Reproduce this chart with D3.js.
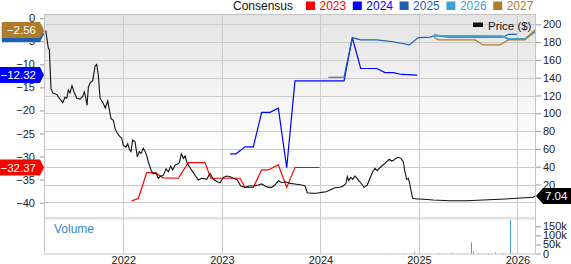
<!DOCTYPE html>
<html>
<head>
<meta charset="utf-8">
<script src="https://cdn.jsdelivr.net/npm/d3@7"></script>
<style>
  body { margin: 0; background: #fff; }
  svg { display: block; font-family: "Liberation Sans", Arial, sans-serif; }
</style>
</head>
<body>
<script>
const width = 571;
const height = 264;

// data (time as decimal years)
const years = [2022, 2023, 2024, 2025, 2026];
const priceTicks = [20, 40, 60, 80, 100, 120, 140, 160, 180, 200];
const epsTicks = [0, -5, -10, -15, -20, -25, -30, -35, -40];
const volTicks = [0, 50000, 100000, 150000];
const volTickLabels = ['0', '50k', '100k', '150k'];

const price = [
  [2021.213,193],[2021.239,173],[2021.249,172],[2021.266,128],[2021.284,123],[2021.324,121],
  [2021.385,112],[2021.408,118],[2021.426,117],[2021.442,126],[2021.459,123],[2021.479,131],
  [2021.500,124],[2021.527,117],[2021.561,116],[2021.588,119],[2021.604,124],[2021.618,118],
  [2021.632,109],[2021.645,129],[2021.662,134],[2021.690,137],[2021.713,153],[2021.730,155],
  [2021.746,143],[2021.764,117],[2021.797,111],[2021.817,106],[2021.842,114],[2021.858,104],
  [2021.875,94],[2021.899,92],[2021.916,83],[2021.933,79],[2021.959,74.5],[2021.984,72],
  [2022.000,64],[2022.027,62],[2022.045,66],[2022.061,59.6],[2022.078,57],[2022.095,70],
  [2022.119,68],[2022.142,51],[2022.162,57],[2022.180,55],[2022.203,60.7],[2022.230,55],
  [2022.254,45.6],[2022.281,36.3],[2022.304,31.8],[2022.329,33.3],[2022.355,27],[2022.380,29.5],
  [2022.406,30],[2022.433,37.6],[2022.457,34.4],[2022.481,40.8],[2022.501,36.3],[2022.525,42],
  [2022.548,42.7],[2022.568,44.5],[2022.589,54.3],[2022.609,49.4],[2022.626,52],[2022.643,45.6],
  [2022.670,40],[2022.710,33.3],[2022.761,25],[2022.796,27],[2022.846,25.8],[2022.880,32.6],
  [2022.913,25.8],[2022.954,23],[2022.981,22],[2023.015,28],[2023.049,29.6],[2023.083,28.8],
  [2023.116,27],[2023.157,25],[2023.191,18.3],[2023.235,16.8],[2023.279,18.3],[2023.319,18.3],
  [2023.370,19.4],[2023.404,20.6],[2023.438,18.3],[2023.471,16.8],[2023.506,16.8],[2023.539,19.4],
  [2023.573,24.3],[2023.607,22],[2023.641,23],[2023.674,22],[2023.692,21.3],[2023.742,20.6],
  [2023.810,19.4],[2023.844,18.3],[2023.867,10.8],[2023.912,10.1],[2023.962,10.1],[2024.013,11.2],
  [2024.057,11.9],[2024.097,13.8],[2024.148,16.4],[2024.199,16.9],[2024.232,18.3],[2024.260,21.3],
  [2024.273,28.8],[2024.287,24.3],[2024.307,28],[2024.328,25.8],[2024.351,29.6],[2024.385,25],
  [2024.419,20.6],[2024.442,16.8],[2024.476,19.4],[2024.503,27],[2024.531,34.4],[2024.554,38.2],
  [2024.576,35.5],[2024.598,38.2],[2024.622,40.8],[2024.648,43],[2024.673,45.6],[2024.699,48.3],
  [2024.723,46.4],[2024.747,47.5],[2024.767,49.4],[2024.790,50.6],[2024.818,49.4],[2024.841,45.6],
  [2024.858,34.4],[2024.876,25.8],[2024.892,27],[2024.902,23],[2024.919,13.8],[2024.937,4.5],
  [2024.977,3.7],[2025.011,3.7],[2025.146,2.6],[2025.315,1.8],[2025.485,1.8],[2025.653,2.6],
  [2025.822,3.4],[2025.992,4.5],[2026.160,5.6],[2026.177,7.04]
];

const eps2023 = [
  [2022.085,-39.6],[2022.152,-39.1],[2022.237,-33.5],[2022.322,-33.5],[2022.406,-34.6],[2022.558,-34.7],
  [2022.660,-31.3],[2022.829,-31.3],[2022.887,-34.7],[2023.184,-34.7],[2023.235,-36.7],[2023.319,-36.7],
  [2023.404,-32.9],[2023.471,-32.9],[2023.573,-31.8],[2023.658,-36.7],[2023.742,-32.37],[2023.989,-32.37]
];
const eps2024 = [
  [2023.083,-29.4],[2023.144,-29.4],[2023.235,-27.9],[2023.319,-27.9],[2023.404,-20.4],[2023.489,-20.4],
  [2023.573,-19.5],[2023.658,-32.4],[2023.742,-13.6],[2024.240,-13.6],[2024.324,-4.2],[2024.409,-10.9],
  [2024.571,-10.9],[2024.656,-11.8],[2024.740,-11.8],[2024.825,-12.2],[2024.983,-12.32]
];
const eps2025 = [
  [2024.080,-12.8],[2024.240,-12.8],[2024.324,-4.2],[2024.409,-4.7],[2024.571,-4.7],[2024.740,-5.1],
  [2024.902,-5.8],[2024.993,-4.2],[2025.112,-4.1],[2025.163,-3.8],[2025.300,-4.1],[2025.856,-4.1],
  [2025.907,-3.5],[2025.992,-3.5]
];
const eps2026 = [
  [2025.153,-3.6],[2025.200,-3.8],[2025.850,-3.9],[2025.907,-4.5],[2026.076,-4.5],[2026.177,-2.9]
];
const eps2027 = [
  [2025.153,-4.2],[2025.200,-4.7],[2025.569,-4.7],[2025.653,-5.8],[2025.822,-5.8],[2025.907,-4.7],
  [2026.076,-4.7],[2026.177,-2.56]
];

const volume = [
  [2024.55,1500],[2024.70,2000],[2024.85,2500],[2024.946,7000],[2025.00,3000],[2025.10,2000],
  [2025.20,2500],[2025.322,5000],[2025.40,2000],[2025.528,62000],[2025.545,10000],[2025.60,3000],
  [2025.70,2500],[2025.769,7000],[2025.85,3000],[2025.924,185000],[2025.95,4000],[2026.05,2500],
  [2026.15,3000]
];

const consensus = [
  {name: '2023', color: '#ff0000', values: eps2023},
  {name: '2024', color: '#0000ff', values: eps2024},
  {name: '2025', color: '#1f5fb0', values: eps2025},
  {name: '2026', color: '#3ea2d4', values: eps2026},
  {name: '2027', color: '#b07b2c', values: eps2027}
];
const labelOrder = ['2023', '2024', '2026', '2025', '2027'];

// layout
const plotLeft = 44, plotRight = 536, plotTop = 14.3, mainBottom = 217.3, volTop = 219.5, plotBottom = 254;

const x = d3.scaleLinear().domain([2021.195, 2026.188]).range([plotLeft, plotRight]);
const yPrice = d3.scaleLinear().domain([0, 200]).range([202.3, 24.3]);
const yEps = d3.scaleLinear().domain([0, -40]).range([18.2, 202.7]);
const yVol = d3.scaleLinear().domain([0, 150000]).range([253.5, 226.3]);

const svg = d3.select('body').append('svg')
    .attr('width', width).attr('height', height);

const defs = svg.append('defs');
const grad = defs.append('linearGradient')
    .attr('id', 'bg').attr('x1', 0).attr('y1', 0).attr('x2', 0).attr('y2', 1);
grad.append('stop').attr('offset', '0%').attr('stop-color', '#e3e3e3');
grad.append('stop').attr('offset', '65%').attr('stop-color', '#ffffff');

svg.append('rect')
    .attr('x', plotLeft).attr('y', plotTop)
    .attr('width', plotRight - plotLeft).attr('height', mainBottom - plotTop)
    .attr('fill', 'url(#bg)');
svg.append('rect')
    .attr('x', plotLeft).attr('y', mainBottom - 0.5)
    .attr('width', plotRight - plotLeft).attr('height', volTop - mainBottom + 0.5)
    .attr('fill', '#e2e2e2');

// grid
const grid = svg.append('g').attr('stroke', '#cccccc').attr('stroke-width', 1);
grid.selectAll('.hg')
    .data([0].concat(priceTicks))
    .enter().append('line')
    .attr('x1', plotLeft).attr('x2', plotRight)
    .attr('y1', d => Math.round(yPrice(d)) + 0.5)
    .attr('y2', d => Math.round(yPrice(d)) + 0.5);
grid.selectAll('.vg')
    .data(years)
    .enter().append('line')
    .attr('x1', d => Math.round(x(d)) + 0.5).attr('x2', d => Math.round(x(d)) + 0.5)
    .attr('y1', plotTop).attr('y2', plotBottom);

// frame
svg.append('rect')
    .attr('x', plotLeft + 0.5).attr('y', Math.round(plotTop) + 0.5)
    .attr('width', plotRight - plotLeft - 1).attr('height', plotBottom - Math.round(plotTop) - 0.5)
    .attr('fill', 'none').attr('stroke', '#c4c4c4');

// volume bars
svg.append('g').selectAll('rect')
    .data(volume)
    .enter().append('rect')
    .attr('x', d => Math.round(x(d[0])))
    .attr('y', d => yVol(d[1]))
    .attr('width', 1)
    .attr('height', d => yVol(0) - yVol(d[1]))
    .attr('fill', '#4a9de0');

svg.append('text')
    .attr('x', 54).attr('y', 233)
    .attr('font-size', 12).attr('fill', '#3a86c8')
    .text('Volume');

// consensus lines
const epsLine = d3.line().x(d => x(d[0])).y(d => yEps(d[1]));
svg.append('g').selectAll('path')
    .data(consensus)
    .enter().append('path')
    .attr('d', d => epsLine(d.values))
    .attr('fill', 'none')
    .attr('stroke', d => d.color)
    .attr('stroke-width', d => d.name === '2026' ? 2 : 1.2);

// price line
const priceLine = d3.line().x(d => x(d[0])).y(d => yPrice(d[1]));
svg.append('path')
    .datum(price)
    .attr('d', priceLine)
    .attr('fill', 'none')
    .attr('stroke', '#111')
    .attr('stroke-width', 1.1);

// axes
const fmt = d3.format('d');
const leftAxis = svg.append('g')
    .attr('transform', `translate(${plotLeft},0)`)
    .call(d3.axisLeft(yEps).tickValues(epsTicks).tickSize(4).tickPadding(5).tickFormat(fmt));
const rightAxis = svg.append('g')
    .attr('transform', `translate(${plotRight},0)`)
    .call(d3.axisRight(yPrice).tickValues(priceTicks).tickSize(5).tickPadding(2));
const volAxis = svg.append('g')
    .attr('transform', `translate(${plotRight},0)`)
    .call(d3.axisRight(yVol).tickValues(volTicks).tickSize(5).tickPadding(2)
        .tickFormat((d, i) => volTickLabels[i]));
const xAxis = svg.append('g')
    .attr('transform', `translate(0,${plotBottom})`)
    .call(d3.axisBottom(x).tickValues(years).tickSize(0).tickPadding(2).tickFormat(fmt));

[leftAxis, rightAxis, volAxis, xAxis].forEach(a => {
    a.select('.domain').remove();
    a.selectAll('text').attr('font-size', 11).attr('fill', '#222')
        .attr('font-family', '"Liberation Sans", Arial, sans-serif');
    a.selectAll('line').attr('stroke', '#999');
});

// legend
const legend = svg.append('g').attr('font-size', 12);
legend.append('text').attr('x', 233).attr('y', 10).attr('fill', '#111').text('Consensus');
const items = legend.selectAll('.item')
    .data(consensus)
    .enter().append('g')
    .attr('transform', (d, i) => `translate(${306 + i * 46.8},0)`);
items.append('rect').attr('x', 0).attr('y', 1.5).attr('width', 9).attr('height', 8.5)
    .attr('fill', d => d.color);
items.append('text').attr('x', 13.5).attr('y', 10).attr('fill', d => d.color).text(d => d.name);

legend.append('rect').attr('x', 473).attr('y', 22.5).attr('width', 10).attr('height', 4.5).attr('fill', '#111');
legend.append('text').attr('x', 488).attr('y', 29.5).attr('font-size', 11.5).attr('fill', '#111').text('Price ($)');

// last-value labels on the left
const labelG = svg.append('g');
labelOrder.forEach(name => {
    const s = consensus.find(c => c.name === name);
    const v = s.values[s.values.length - 1][1];
    const cy = yEps(v);
    const g = labelG.append('g');
    const t = g.append('text')
        .attr('font-size', 11.5).attr('fill', '#fff')
        .attr('text-anchor', 'end')
        .attr('x', 36).attr('y', cy + 4)
        .text(d3.format('.2f')(v));
    const w = t.node().getComputedTextLength() + 9;
    const x1 = 40, x0 = x1 - w, h = 8;
    g.insert('path', 'text')
        .attr('d', `M${x0},${cy - h}L${x1},${cy - h}L${plotLeft},${cy}L${x1},${cy + h}L${x0},${cy + h}Z`)
        .attr('fill', s.color);
});

// last price label on the right
const last = price[price.length - 1];
const py = yPrice(last[1]);
svg.append('path')
    .attr('d', `M${plotRight},${py}L${543},${py - 8}L${width},${py - 8}L${width},${py + 8}L${543},${py + 8}Z`)
    .attr('fill', '#000');
svg.append('text')
    .attr('x', 545).attr('y', py + 4)
    .attr('font-size', 11.5).attr('fill', '#fff')
    .text(d3.format('.2f')(last[1]));
</script>
</body>
</html>
